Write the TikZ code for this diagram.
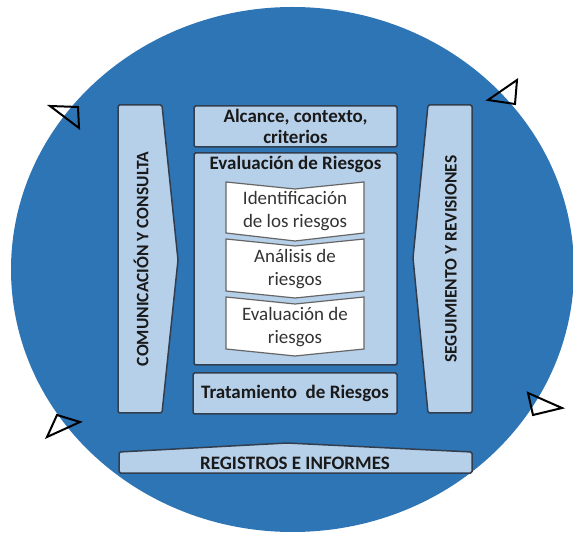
\documentclass[tikz,border=0pt]{standalone}
\usepackage{fontspec}
\setmainfont{Carlito}
\usepackage{xcolor}
\usetikzlibrary{shapes,arrows}

\definecolor{ringblue}{RGB}{46,117,182}
\definecolor{boxblue}{RGB}{183,208,234}
\definecolor{edgegray}{RGB}{50,62,78}

\begin{document}
\begin{tikzpicture}[x=1pt, y=-1pt]
\tikzstyle{vertexr}=[rectangle, draw=edgegray, fill=boxblue, line width=1.5pt, rounded corners=1.5pt, inner sep=0pt, minimum width=203pt]
\tikzstyle{band}=[draw=edgegray, fill=boxblue, line width=1.5pt, rounded corners=1.5pt]
\tikzstyle{chevron}=[draw=black!60, fill=white, line width=1.2pt]
\tikzstyle{boldtext}=[font=\fontsize{19}{20.5}\selectfont\bfseries, align=center, text=black!90]
\tikzstyle{plaintext}=[font=\fontsize{19}{22.5}\selectfont, align=center, text=black!80]
\tikzstyle{sidetext}=[font=\fontsize{17.5}{20}\selectfont\bfseries, rotate=90, text=black!90]
\tikzstyle{marker}=[draw=black, line width=2pt]

\useasboundingbox (0,0) rectangle (573,534);
\fill[ringblue] (292.5,269.5) ellipse [x radius=281.5pt, y radius=262.5pt];

% side bands
\draw[band] (118,105) -- (162,105) -- (178,260) -- (162,413) -- (118,413) -- cycle;
\node[sidetext] (G0x0) at (141,259) {COMUNICACIÓN Y CONSULTA};
\draw[band] (428,105) -- (472,105) -- (472,413) -- (428,413) -- (413,258) -- cycle;
\node[sidetext] (G2x0) at (451,259) {SEGUIMIENTO Y REVISIONES};

% middle column
\node[vertexr, minimum height=41pt, boldtext] (G1x0) at (295.5,126.5) {Alcance, contexto,\\criterios};
\node[vertexr, minimum height=212pt] (G1x1) at (295.5,259) {};
\node[boldtext] (G1x1t) at (295.5,164) {Evaluación de Riesgos};

\draw[chevron] (226,182) -- (295,189) -- (364,182) -- (364,233) -- (295,241) -- (226,233) -- cycle;
\node[plaintext] (G1x2) at (295,211) {Identificación\\de los riesgos};
\draw[chevron] (226,239) -- (295,246) -- (364,239) -- (364,291) -- (295,298) -- (226,291) -- cycle;
\node[plaintext] (G1x3) at (295,269) {Análisis de\\riesgos};
\draw[chevron] (226,297) -- (295,304) -- (364,297) -- (364,349) -- (295,356) -- (226,349) -- cycle;
\node[plaintext] (G1x4) at (295,327) {Evaluación de\\riesgos};

\node[vertexr, minimum width=204pt, minimum height=41pt, boldtext] (G1x5) at (295,393.5) {Tratamiento\ \ de Riesgos};

% bottom band
\draw[band] (119,452) -- (287,443) -- (472,452) -- (472,473) -- (119,473) -- cycle;
\node[boldtext] (G1x6) at (295,463) {REGISTROS E INFORMES};

% open markers on the ring
\draw[marker] (50,106) -- (78,107) -- (79,128) -- cycle;
\draw[marker] (488,100) -- (517,80) -- (515,104) -- cycle;
\draw[marker] (47,437) -- (57,415) -- (80,422) -- cycle;
\draw[marker] (528,393) -- (533,415) -- (562,408) -- cycle;
\end{tikzpicture}
\end{document}
